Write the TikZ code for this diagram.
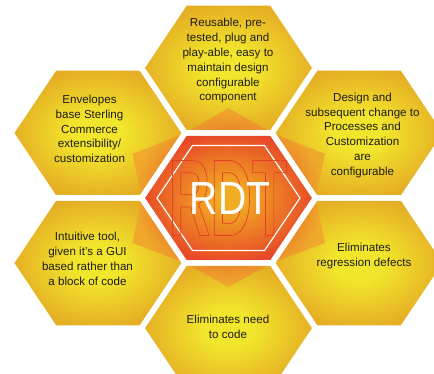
\documentclass[tikz,border=0pt]{standalone}
\usepackage{fontspec}
\setmainfont{Liberation Sans}
\newfontfamily\rdtwhitefont[FakeStretch=0.84]{Liberation Sans}
\newfontfamily\rdtbigfont[FakeStretch=0.53]{Liberation Sans}
\definecolor{hexin}{RGB}{242,230,44}
\definecolor{hexout}{RGB}{229,174,36}
\definecolor{stdark}{RGB}{233,122,40}
\definecolor{stlight}{RGB}{239,170,44}
\definecolor{ctin}{RGB}{241,172,34}
\definecolor{ctout}{RGB}{232,72,40}
\definecolor{outlinecol}{RGB}{226,66,38}
\definecolor{textdark}{RGB}{30,28,24}
\pgfdeclareradialshading{hexyel}{\pgfpoint{0bp}{0bp}}{color(0bp)=(hexin); color(7bp)=(hexin); color(25bp)=(hexout); color(50bp)=(hexout)}
\pgfdeclareradialshading{starsh}{\pgfpoint{0bp}{0bp}}{color(0bp)=(stdark); color(16bp)=(stdark); color(25bp)=(stlight); color(50bp)=(stlight)}
\pgfdeclareradialshading{centersh}{\pgfpoint{0bp}{0bp}}{color(0bp)=(ctin); color(4bp)=(ctin); color(25bp)=(ctout); color(50bp)=(ctout)}
\newcommand\hexcellpath{(-87,0) -- (-43.5,-65) -- (43.5,-65) -- (87,0) -- (43.5,65) -- (-43.5,65) -- cycle}
\begin{document}
\begin{tikzpicture}[x=1pt,y=-1pt,
  outerhex/.style={shading=hexyel},
  gapline/.style={draw=white,line width=5.5pt,line join=miter},
  hextext/.style={align=center,text=textdark,inner sep=0pt,font=\fontsize{11.6}{14.8}\selectfont}]
\useasboundingbox (0,0) rectangle (434,374);
\fill[white] (0,0) rectangle (434,374);
\begin{scope}
\clip (0,0) rectangle (434,374);
% outer hexagons
\foreach \cx/\cy in {228.5/68, 359/133, 359/263, 228.5/328, 98/263, 98/133}{
  \path[outerhex, shift={(\cx,\cy)}] \hexcellpath;
}
% orange star behind the centre
\path[shading=starsh, shift={(228.5,198)}]
  (-87,0) -- (-96,-44) -- (-43.5,-65) -- (0,-90) -- (43.5,-65) -- (96.5,-44) -- (87,0)
  -- (96.5,45) -- (43.5,65) -- (0,89) -- (-43.5,65) -- (-96,45) -- cycle;
% centre hexagon
\path[shading=centersh, shift={(228.5,198)}] \hexcellpath;
% white gaps
\foreach \cx/\cy in {228.5/68, 359/133, 359/263, 228.5/328, 98/263, 98/133, 228.5/198}{
  \path[gapline, shift={(\cx,\cy)}] \hexcellpath;
}
\end{scope}
% inner outline hexagon
\draw[white, line width=1.2pt, shift={(228.5,198)}]
  (-71.5,0) -- (-36,-52.5) -- (36,-52.5) -- (71.5,0) -- (36,52.5) -- (-36,52.5) -- cycle;
% outlined big RDT
\node (rdtoutline) at (228,198) [inner sep=0pt, text=outlinecol, font=\rdtbigfont\bfseries\fontsize{109}{109}\selectfont]
  {\special{pdf:literal direct 1 Tr 0.7 w}RDT\special{pdf:literal direct 0 Tr}};
% white RDT
\node (rdt) at (230,198.3) [inner sep=0pt, text=white, font=\rdtwhitefont\fontsize{46.5}{46.5}\selectfont] {RDT};
% texts
\node[hextext] (ttop) at (228,61) {Reusable, pre-\\tested, plug and\\play-able, easy to\\maintain design\\configurable\\component};
\node[hextext] (tul) at (89.5,129) {Envelopes\\base Sterling\\Commerce\\extensibility/\\customization};
\node[hextext] (tur) at (362.5,135.3) {Design and\\subsequent change to\\Processes and\\Customization\\are\\configurable};
\node[hextext] (tlr) at (364,255.8) {Eliminates\\regression defects};
\node[hextext] (tbot) at (228,326.8) {Eliminates need\\to code};
\node[hextext] (tll) at (87.5,258.7) {Intuitive tool,\\given it’s a GUI\\based rather than\\a block of code};
\end{tikzpicture}
\end{document}
